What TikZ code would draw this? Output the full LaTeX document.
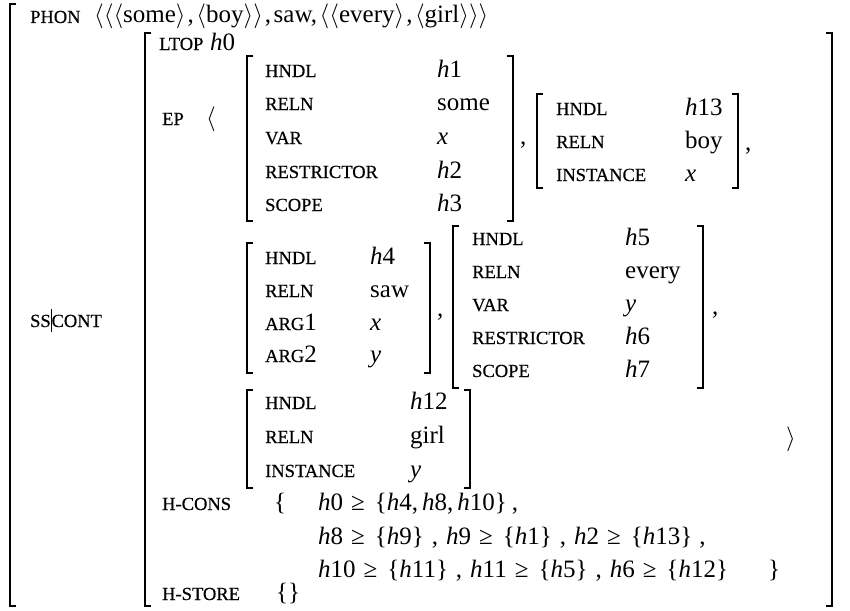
\documentclass[tikz,border=0pt]{standalone}
\usepackage{fontspec}
\setmainfont{Liberation Serif}
\newfontfamily\scfont[FakeBold=0.4]{Liberation Serif}
\newcommand{\smc}[1]{{\scfont\fontsize{18.5}{18.5}\selectfont #1}}
\newcommand{\hv}[1]{\textit{h}#1}
\newcommand{\la}{{\fontsize{23}{23}\selectfont$\langle$}}
\newcommand{\ra}{{\fontsize{23}{23}\selectfont$\rangle$}}
\newcommand{\bla}{$\langle$}
\newcommand{\bra}{$\rangle$}
\newcommand{\gq}{\kern8pt≥\kern10pt}
\newcommand{\sep}{\kern8pt,\kern8pt}
\newcommand{\mylb}[3]{\draw[brk] (#1+6,#2) -- (#1,#2) -- (#1,#3) -- (#1+6,#3);}
\newcommand{\myrb}[3]{\draw[brk] (#1-6,#2) -- (#1,#2) -- (#1,#3) -- (#1-6,#3);}
\begin{document}
\begin{tikzpicture}[x=1pt,y=-1pt,
  txt/.style={inner sep=0pt, anchor=base west, font=\fontsize{25}{30}\selectfont},
  brk/.style={line width=1.8pt, line cap=butt}]
\useasboundingbox (0,0) rectangle (850,610);
% brackets
\mylb{10}{4}{606}
\mylb{145}{33}{606} \myrb{832}{33}{606}
\mylb{247}{56}{221} \myrb{513}{56}{221}
\mylb{537}{94}{188} \myrb{738}{94}{188}
\mylb{247}{243}{373} \myrb{430}{243}{373}
\mylb{453}{226}{388} \myrb{703}{226}{388}
\mylb{247}{390}{488} \myrb{470}{390}{488}
% top level
\node[txt] (phon) at (30,23) {\smc{PHON}};
\node[txt] (phonv) at (94,23) {\la\la\la some\ra\kern2pt,\kern2.5pt\la boy\ra\ra\kern2pt,\kern2.5pt saw,\kern2.5pt\la\la every\ra\kern2pt,\kern2.5pt\la girl\ra\ra\ra};
\node[txt] (sscont) at (30,327) {\smc{SS}\rule[-5pt]{0.8pt}{23pt}\smc{CONT}};
% cont
\node[txt] (ltop) at (159,50) {\smc{LTOP}};
\node[txt] (ltopv) at (210,50) {\hv{0}};
\node[txt] (ep) at (162,125) {\smc{EP}};
\node[txt] (epo) at (206,125) {\bla};
% some
\node[txt] (s1) at (265,77) {\smc{HNDL}};       \node[txt] (s1v) at (437,77) {\hv{1}};
\node[txt] (s2) at (265,110) {\smc{RELN}};      \node[txt] (s2v) at (437,110) {some};
\node[txt] (s3) at (265,144) {\smc{VAR}};       \node[txt] (s3v) at (437,144) {\textit{x}};
\node[txt] (s4) at (265,178) {\smc{RESTRICTOR}};\node[txt] (s4v) at (437,178) {\hv{2}};
\node[txt] (s5) at (265,211) {\smc{SCOPE}};     \node[txt] (s5v) at (437,211) {\hv{3}};
\node[txt] (c1) at (520,144) {,};
% boy
\node[txt] (b1) at (556,115) {\smc{HNDL}};      \node[txt] (b1v) at (685,115) {\hv{13}};
\node[txt] (b2) at (556,148) {\smc{RELN}};      \node[txt] (b2v) at (685,148) {boy};
\node[txt] (b3) at (556,181) {\smc{INSTANCE}};  \node[txt] (b3v) at (685,181) {\textit{x}};
\node[txt] (c2) at (745,150) {,};
% saw
\node[txt] (w1) at (265,264) {\smc{HNDL}};      \node[txt] (w1v) at (370,264) {\hv{4}};
\node[txt] (w2) at (265,297) {\smc{RELN}};      \node[txt] (w2v) at (370,297) {saw};
\node[txt] (w3) at (265,330) {\smc{ARG}1};      \node[txt] (w3v) at (370,330) {\textit{x}};
\node[txt] (w4) at (265,362) {\smc{ARG}2};      \node[txt] (w4v) at (370,362) {\textit{y}};
\node[txt] (c3) at (437,316) {,};
% every
\node[txt] (e1) at (472,245) {\smc{HNDL}};      \node[txt] (e1v) at (625,245) {\hv{5}};
\node[txt] (e2) at (472,278) {\smc{RELN}};      \node[txt] (e2v) at (625,278) {every};
\node[txt] (e3) at (472,311) {\smc{VAR}};       \node[txt] (e3v) at (625,311) {\textit{y}};
\node[txt] (e4) at (472,344) {\smc{RESTRICTOR}};\node[txt] (e4v) at (625,344) {\hv{6}};
\node[txt] (e5) at (472,377) {\smc{SCOPE}};     \node[txt] (e5v) at (625,377) {\hv{7}};
\node[txt] (c4) at (712,314) {,};
% girl
\node[txt] (g1) at (265,409) {\smc{HNDL}};      \node[txt] (g1v) at (410,409) {\hv{12}};
\node[txt] (g2) at (265,443) {\smc{RELN}};      \node[txt] (g2v) at (410,443) {girl};
\node[txt] (g3) at (265,477) {\smc{INSTANCE}};  \node[txt] (g3v) at (410,477) {\textit{y}};
\node[txt] (epc) at (786,445) {\bra};
% h-cons
\node[txt] (hc) at (162,510) {\smc{H-CONS}};
\node[txt] (hco) at (274,510) {\{};
\node[txt] (hc1) at (318,510) {\hv{0}\gq\{\hv{4},\kern4pt\hv{8},\kern4pt\hv{10}\}\kern5pt,};
\node[txt] (hc2) at (318,544) {\hv{8}\gq\{\hv{9}\}\sep\hv{9}\gq\{\hv{1}\}\sep\hv{2}\gq\{\hv{13}\}\kern7pt,};
\node[txt] (hc3) at (318,577) {\hv{10}\gq\{\hv{11}\}\sep\hv{11}\gq\{\hv{5}\}\sep\hv{6}\gq\{\hv{12}\}};
\node[txt] (hcc) at (768,577) {\}};
% h-store
\node[txt] (hs) at (162,600) {\smc{H-STORE}};
\node[txt] (hsv) at (276,600) {\{\}};
\end{tikzpicture}
\end{document}
